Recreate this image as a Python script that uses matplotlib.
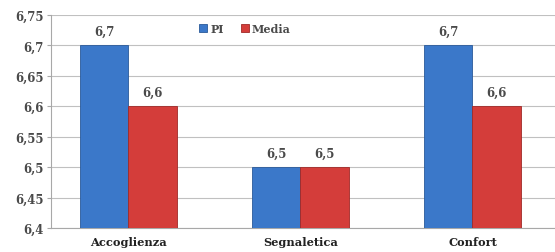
import numpy as np
import matplotlib.pyplot as plt
from matplotlib.ticker import FuncFormatter, MultipleLocator

categories = ['Accoglienza', 'Segnaletica', 'Confort']
pi_values = [6.7, 6.5, 6.7]
media_values = [6.6, 6.5, 6.6]

plt.rcParams['font.family'] = 'DejaVu Serif'
text_col = '#4a4a4a'

fig = plt.figure(figsize=(5.55, 2.53), dpi=100)
ax = fig.add_axes([0.092, 0.095, 0.908, 0.842])

x = np.arange(len(categories))
w = 0.28
b1 = ax.bar(x - w / 2, [v - 6.4 for v in pi_values], w, bottom=6.4,
            color='#3b78c9', edgecolor='#2a5a9a', linewidth=0.6, label='PI', zorder=3)
b2 = ax.bar(x + w / 2, [v - 6.4 for v in media_values], w, bottom=6.4,
            color='#d43d3a', edgecolor='#a02a28', linewidth=0.6, label='Media', zorder=3)

for bars, vals in ((b1, pi_values), (b2, media_values)):
    for r, v in zip(bars, vals):
        ax.text(r.get_x() + r.get_width() / 2, v + 0.012, f'{v}'.replace('.', ','),
                ha='center', va='bottom', fontsize=8.5, fontweight='bold', color=text_col)

ax.set_ylim(6.4, 6.75)
ax.set_xlim(-0.45, 2.48)
ax.yaxis.set_major_locator(MultipleLocator(0.05))
ax.yaxis.set_major_formatter(FuncFormatter(lambda v, p: f'{v:.2f}'.rstrip('0').rstrip('.').replace('.', ',')))
ax.set_xticks(x)
ax.set_xticklabels(categories)
ax.grid(axis='y', color='#c0c0c0', linewidth=0.8, zorder=0)

for s in ('top', 'right'):
    ax.spines[s].set_visible(False)
for s in ('left', 'bottom'):
    ax.spines[s].set_color('#a8a8a8')

ax.tick_params(axis='y', length=3, color='#a8a8a8', labelsize=8.5, labelcolor=text_col, pad=2)
ax.tick_params(axis='x', length=0, labelsize=8.2, labelcolor='#222222', pad=6)
for lbl in ax.get_yticklabels():
    lbl.set_fontweight('bold')
for lbl in ax.get_xticklabels():
    lbl.set_fontweight('bold')

leg = ax.legend(loc='upper center', bbox_to_anchor=(0.385, 1.01), ncol=2, frameon=False,
                handlelength=0.7, handleheight=0.7, handletextpad=0.3,
                columnspacing=1.5, prop={'weight': 'bold', 'size': 8})
for t in leg.get_texts():
    t.set_color(text_col)

fig.savefig('out.png', dpi=100)
